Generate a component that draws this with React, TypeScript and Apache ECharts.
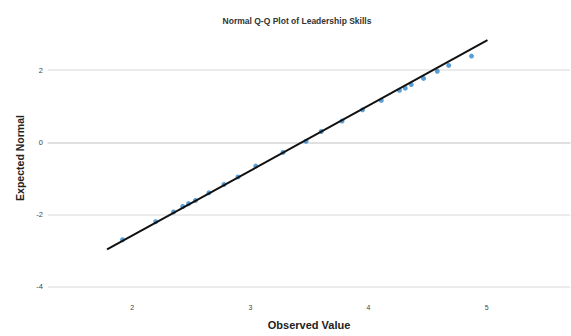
import React, { useEffect, useRef } from "react";
import * as echarts from "echarts";

const titleText = "Normal Q-Q Plot of Leadership Skills";
const xAxisName = "Observed Value";
const yAxisName = "Expected Normal";

const observed = [1.917, 2.198, 2.349, 2.427, 2.476, 2.535, 2.648, 2.776, 2.895, 3.045, 3.276, 3.471, 3.6, 3.776, 3.949, 4.108, 4.262, 4.311, 4.362, 4.466, 4.582, 4.679, 4.872];
const expected = [-2.7, -2.2, -1.93, -1.78, -1.7, -1.61, -1.4, -1.17, -0.96, -0.66, -0.28, 0.03, 0.3, 0.59, 0.9, 1.16, 1.44, 1.5, 1.6, 1.77, 1.97, 2.13, 2.39];

const refLineX = [1.786, 5.007];
const refLineY = [-2.97, 2.83];

const xTicks = [2, 3, 4, 5];
const yTicks = [-4, -2, 0, 2];

export default function App() {
  const ref = useRef<HTMLDivElement>(null);
  useEffect(() => {
    if (!ref.current) return;
    const chart = echarts.init(ref.current, null, { renderer: "svg" });
    const font = "Liberation Sans, Arial, sans-serif";
    chart.setOption({
      animation: false,
      backgroundColor: "#ffffff",
      textStyle: { fontFamily: font },
      title: {
        text: titleText,
        left: 292,
        top: 11,
        textAlign: "center",
        textStyle: { fontSize: 8.5, fontWeight: "bold", color: "#333", fontFamily: font },
      },
      grid: { left: 48, right: 1, top: 16, bottom: 36 },
      xAxis: {
        type: "value",
        min: 1.286,
        max: 5.706,
        name: xAxisName,
        nameLocation: "middle",
        nameGap: 19,
        nameTextStyle: { fontSize: 11, fontWeight: "bold", color: "#222", fontFamily: font },
        axisLine: { show: true, lineStyle: { color: "#dcdcdc", width: 1.5 } },
        axisTick: { show: false, customValues: xTicks },
        axisLabel: { customValues: xTicks, fontSize: 7, color: "#444", margin: 4 },
        splitLine: { show: false },
      },
      yAxis: {
        type: "value",
        min: -4.37,
        max: 3.5,
        name: yAxisName,
        nameLocation: "middle",
        nameGap: 22,
        nameTextStyle: { fontSize: 10.5, fontWeight: "bold", color: "#222", fontFamily: font },
        axisLine: { show: false },
        axisTick: { show: false, customValues: yTicks },
        axisLabel: { customValues: yTicks, fontSize: 7.5, color: "#444", margin: 5 },
        splitLine: { show: true, lineStyle: { color: "#e4e4e4", width: 1.5 } },
      },
      series: [
        {
          type: "scatter",
          data: observed.map((x, i) => [x, expected[i]]),
          symbol: "circle",
          symbolSize: 5,
          itemStyle: { color: "#2f88cf" },
          z: 2,
        },
        {
          type: "line",
          data: refLineX.map((x, i) => [x, refLineY[i]]),
          symbol: "none",
          lineStyle: { color: "#111", width: 2 },
          z: 3,
        },
      ],
    });
    return () => chart.dispose();
  }, []);
  return (
    <div
      ref={ref}
      style={{ position: "absolute", left: 0, top: 0, width: 571, height: 336 }}
    />
  );
}
